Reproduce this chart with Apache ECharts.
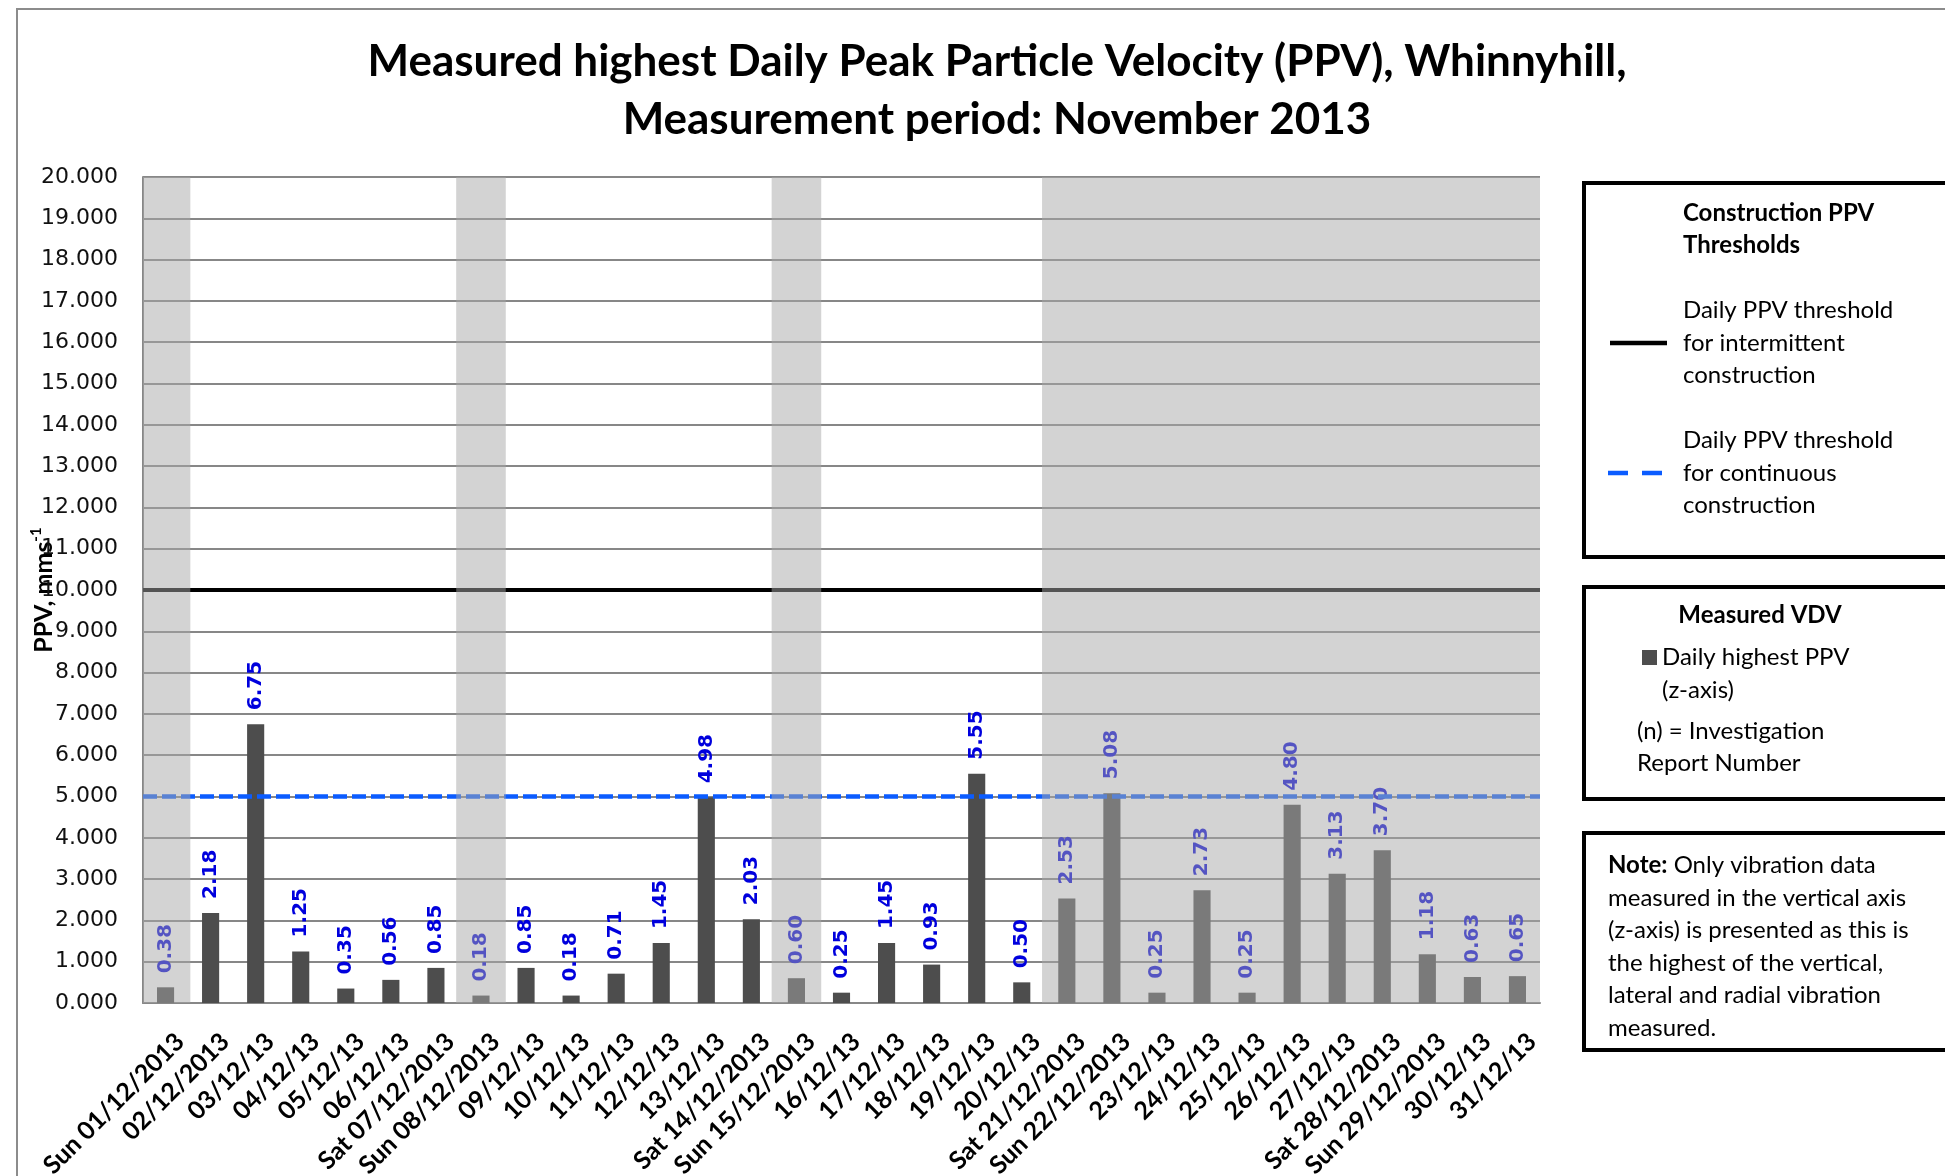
<!DOCTYPE html>
<html lang="en">
<head>
    <meta charset="UTF-8">
    <title>Measured highest Daily PPV, Whinnyhill</title>
    <script src="https://cdn.jsdelivr.net/npm/echarts@6/dist/echarts.min.js"></script>
    <style>
        html, body { margin: 0; padding: 0; background: #fff; }
        #chart { width: 1945px; height: 1176px; }
    </style>
</head>
<body>
<div id="chart"></div>
<script>
    // days of December 2013
    const days = [
        'Sun 01/12/2013', '02/12/2013', '03/12/13', '04/12/13', '05/12/13', '06/12/13', 'Sat 07/12/2013',
        'Sun 08/12/2013', '09/12/13', '10/12/13', '11/12/13', '12/12/13', '13/12/13', 'Sat 14/12/2013',
        'Sun 15/12/2013', '16/12/13', '17/12/13', '18/12/13', '19/12/13', '20/12/13', 'Sat 21/12/2013',
        'Sun 22/12/2013', '23/12/13', '24/12/13', '25/12/13', '26/12/13', '27/12/13', 'Sat 28/12/2013',
        'Sun 29/12/2013', '30/12/13', '31/12/13'
    ];
    // daily highest PPV (z-axis), mm/s
    const ppv = [
        0.38, 2.18, 6.75, 1.25, 0.35, 0.56, 0.85,
        0.18, 0.85, 0.18, 0.71, 1.45, 4.98, 2.03,
        0.60, 0.25, 1.45, 0.93, 5.55, 0.50, 2.53,
        5.08, 0.25, 2.73, 0.25, 4.80, 3.13, 3.70,
        1.18, 0.63, 0.65
    ];
    // shaded (non-working) periods, as [first day index, last day index]
    const shadedRuns = [[0, 0], [7, 7], [14, 14], [20, 30]];
    const thresholdIntermittent = 10;
    const thresholdContinuous = 5;
    const yMin = 0, yMax = 20, yStep = 1;

    const chart = echarts.init(document.getElementById('chart'));
    const legendFont = 'Lato, "Open Sans", sans-serif';
    const overlay = 'rgba(167,167,167,0.5)';

    const option = {
        animation: false,
        title: {
            text: 'Measured highest Daily Peak Particle Velocity (PPV), Whinnyhill,\nMeasurement period: November 2013',
            left: 992,
            top: 28,
            textAlign: 'center',
            textStyle: {
                fontFamily: legendFont,
                fontWeight: 'bold',
                fontSize: 44,
                lineHeight: 58,
                color: '#000'
            }
        },
        grid: {
            left: 143,
            top: 177,
            width: 1397,
            height: 826,
            containLabel: false,
            outerBoundsMode: 'none'
        },
        xAxis: {
            type: 'category',
            data: days,
            axisLine: { lineStyle: { color: '#878787', width: 2 } },
            axisTick: { show: false },
            axisLabel: {
                interval: 0,
                rotate: 45,
                margin: 20,
                verticalAlign: 'top',
                padding: [8, 0, 0, 0],
                fontFamily: legendFont,
                fontWeight: 'bold',
                fontSize: 25,
                color: '#000'
            }
        },
        yAxis: {
            type: 'value',
            min: yMin,
            max: yMax,
            interval: yStep,
            name: 'PPV, mms{sup|-1}',
            nameLocation: 'middle',
            nameGap: 84,
            nameRotate: 90,
            nameMoveOverlap: false,
            nameTextStyle: {
                fontFamily: legendFont,
                fontWeight: 'bold',
                fontSize: 25,
                lineHeight: 30,
                color: '#000',
                rich: {
                    sup: { fontFamily: legendFont, fontWeight: 'bold', fontSize: 15, verticalAlign: 'top', color: '#000' }
                }
            },
            axisLine: { show: true, lineStyle: { color: '#878787', width: 2 } },
            axisTick: { show: false },
            splitLine: { lineStyle: { color: '#878787', width: 2 } },
            axisLabel: {
                margin: 25,
                fontFamily: '"DejaVu Sans", Verdana, sans-serif',
                fontSize: 22,
                color: '#111',
                formatter: v => v.toFixed(3)
            }
        },
        series: [
            {
                name: 'Daily highest PPV (z-axis)',
                type: 'bar',
                data: ppv,
                barWidth: '38%',
                itemStyle: { color: '#4d4d4d' },
                label: {
                    show: true,
                    position: 'top',
                    rotate: 90,
                    align: 'left',
                    verticalAlign: 'middle',
                    distance: 14,
                    fontFamily: '"DejaVu Sans", Verdana, sans-serif',
                    fontWeight: 'bold',
                    fontSize: 20,
                    color: '#0000dd',
                    formatter: p => p.value.toFixed(2)
                },
                markLine: {
                    silent: true,
                    symbol: 'none',
                    label: { show: false },
                    animation: false,
                    data: [
                        { yAxis: thresholdIntermittent, lineStyle: { color: '#000', width: 4, type: 'solid' } },
                        { yAxis: thresholdContinuous, lineStyle: { color: '#0b5cff', width: 4.5, type: [14, 5] } }
                    ]
                }
            },
            {
                name: 'shade',
                type: 'custom',
                z: 10,
                silent: true,
                data: shadedRuns,
                renderItem: function (params, api) {
                    const a = api.value(0), b = api.value(1);
                    const band = api.size([1, 0])[0];
                    const p0 = api.coord([a, yMin]);
                    const p1 = api.coord([b, yMax]);
                    const cs = params.coordSys;
                    const shape = echarts.graphic.clipRectByRect(
                        { x: p0[0] - band * 0.55, y: p1[1], width: p1[0] - p0[0] + band * 1.1, height: p0[1] - p1[1] },
                        { x: cs.x, y: cs.y, width: cs.width, height: cs.height }
                    );
                    return shape && { type: 'rect', shape: shape, style: { fill: overlay } };
                }
            }
        ],
        graphic: [
            // outer frame
            { type: 'rect', z: -1, shape: { x: 17, y: 9, width: 2000, height: 1300 }, style: { fill: 'none', stroke: '#8c8c8c', lineWidth: 2 } },
            // thresholds box
            { type: 'rect', shape: { x: 1584, y: 183, width: 420, height: 374 }, style: { fill: '#fff', stroke: '#000', lineWidth: 4 } },
            { type: 'text', x: 1683, y: 197, style: { text: 'Construction PPV\nThresholds', font: 'bold 24px ' + legendFont, lineHeight: 32, fill: '#000', verticalAlign: 'top' } },
            { type: 'text', x: 1683, y: 343, style: { text: 'Daily PPV threshold\nfor intermittent\nconstruction', font: '24px ' + legendFont, lineHeight: 32.5, fill: '#000', verticalAlign: 'middle' } },
            { type: 'line', shape: { x1: 1610, y1: 343, x2: 1667, y2: 343 }, style: { stroke: '#000', lineWidth: 4.5 } },
            { type: 'text', x: 1683, y: 473, style: { text: 'Daily PPV threshold\nfor continuous\nconstruction', font: '24px ' + legendFont, lineHeight: 32.5, fill: '#000', verticalAlign: 'middle' } },
            { type: 'line', shape: { x1: 1608, y1: 473, x2: 1662, y2: 473 }, style: { stroke: '#0b5cff', lineWidth: 4.5, lineDash: [20, 14] } },
            // measured box
            { type: 'rect', shape: { x: 1584, y: 587, width: 420, height: 212 }, style: { fill: '#fff', stroke: '#000', lineWidth: 4 } },
            { type: 'text', x: 1760, y: 615, style: { text: 'Measured VDV', font: 'bold 24px ' + legendFont, fill: '#000', align: 'center', verticalAlign: 'middle' } },
            { type: 'rect', shape: { x: 1642, y: 650, width: 15, height: 15 }, style: { fill: '#4d4d4d' } },
            { type: 'text', x: 1662, y: 641, style: { text: 'Daily highest PPV\n(z-axis)', font: '24px ' + legendFont, lineHeight: 33, fill: '#000', verticalAlign: 'top' } },
            { type: 'text', x: 1637, y: 716, style: { text: '(n) = Investigation\nReport Number', font: '24px ' + legendFont, lineHeight: 31.5, fill: '#000', verticalAlign: 'top' } },
            // note box
            { type: 'rect', shape: { x: 1584, y: 833, width: 420, height: 217 }, style: { fill: '#fff', stroke: '#000', lineWidth: 4 } },
            {
                type: 'text', x: 1608, y: 849,
                style: {
                    text: '{b|Note:} Only vibration data\nmeasured in the vertical axis\n(z-axis) is presented as this is\nthe highest of the vertical,\nlateral and radial vibration\nmeasured.',
                    font: '24px ' + legendFont, lineHeight: 32.6, fill: '#000',
                    rich: { b: { fontFamily: legendFont, fontWeight: 'bold', fontSize: 24, lineHeight: 32.6 } }
                }
            }
        ]
    };
    chart.setOption(option);
</script>
</body>
</html>
